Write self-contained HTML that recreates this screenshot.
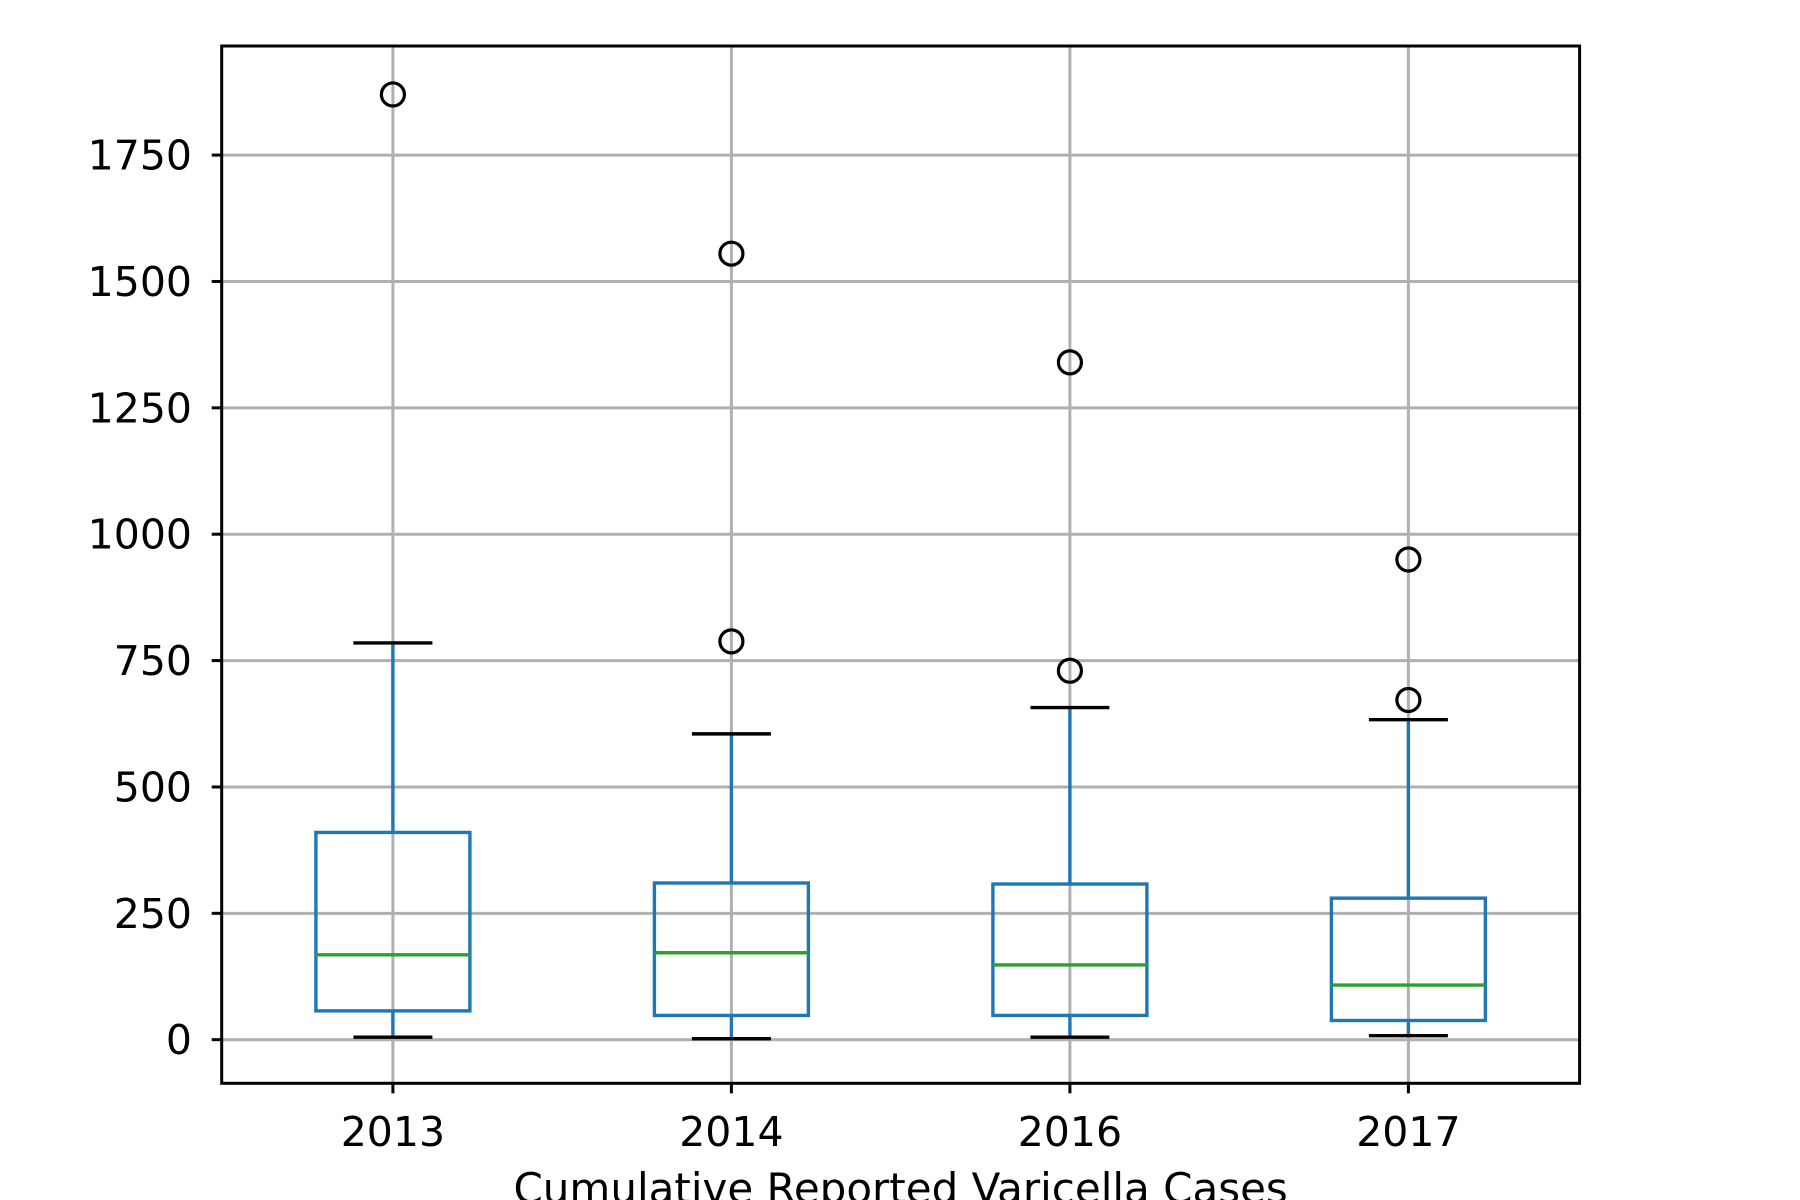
<!DOCTYPE html>
<html><head><meta charset="utf-8"><style>html,body{margin:0;padding:0;background:#fff}svg{display:block}text{font-family:"DejaVu Sans","Liberation Sans",sans-serif;fill:#000}</style></head>
<body>
<svg id="chart" width="1800" height="1200">
<rect width="1800" height="1200" fill="#fff"/>
<g id="grid"></g><g id="marks"></g><g id="axes"></g>
</svg>
<script>
const categories = ["2013","2014","2016","2017"];
const whiskerLow = [5, 2, 5, 8];
const q1 = [57, 48, 48, 38];
const median = [168, 172, 148, 108];
const q3 = [410, 310, 308, 280];
const whiskerHigh = [785, 605, 657, 633];
const outliers = [[1870],[788,1555],[730,1340],[672,950]];
const yTicks = [0,250,500,750,1000,1250,1500,1750];

const L=221.7,R=1579.6,T=46,B=1083.3;
const y0=1039.7, pxPer=(1039.7-155.1)/1750;
function y(v){return y0 - v*pxPer;}
function x(i){return 392.9 + i*(1408.4-392.9)/3;}
const NS="http://www.w3.org/2000/svg";
function mk(parent,tag,attrs){const e=document.createElementNS(NS,tag);for(const k in attrs)e.setAttribute(k,attrs[k]);document.getElementById(parent).appendChild(e);return e;}

yTicks.forEach(v=>{
  const g=mk("grid","line",{x1:L,x2:R,y1:y(v),y2:y(v),stroke:"#b0b0b0","stroke-width":3});
  
  
  const t=mk("axes","line",{x1:L-10,x2:L,y1:y(v),y2:y(v),stroke:"#000","stroke-width":3});
  
  
  const l=mk("axes","text",{x:192,y:y(v)+14.5,"text-anchor":"end","font-size":41});
  l.textContent=v;
  
  
});
categories.forEach((c,i)=>{
  const g=mk("grid","line",{x1:x(i),x2:x(i),y1:T,y2:B,stroke:"#b0b0b0","stroke-width":3});
  
  
  const t=mk("axes","line",{x1:x(i),x2:x(i),y1:B,y2:B+10,stroke:"#000","stroke-width":3});
  
  
  const l=mk("axes","text",{x:x(i),y:1146,"text-anchor":"middle","font-size":41});
  l.textContent=c;
  
  

  const bw=154, cw=79;
  const wl=mk("marks","line",{x1:x(i),x2:x(i),y1:y(q1[i]),y2:y(whiskerLow[i]),stroke:"#1f77b4","stroke-width":3.4});
  
  
  const wh=mk("marks","line",{x1:x(i),x2:x(i),y1:y(q3[i]),y2:y(whiskerHigh[i]),stroke:"#1f77b4","stroke-width":3.4});
  
  
  const cl=mk("marks","line",{x1:x(i)-cw/2,x2:x(i)+cw/2,y1:y(whiskerLow[i]),y2:y(whiskerLow[i]),stroke:"#000","stroke-width":3.4});
  
  
  const ch=mk("marks","line",{x1:x(i)-cw/2,x2:x(i)+cw/2,y1:y(whiskerHigh[i]),y2:y(whiskerHigh[i]),stroke:"#000","stroke-width":3.4});
  
  
  const bx=mk("marks","rect",{x:x(i)-bw/2,y:y(q3[i]),width:bw,height:y(q1[i])-y(q3[i]),fill:"none",stroke:"#1f77b4","stroke-width":3.4});
  
  
  const md=mk("marks","line",{x1:x(i)-bw/2,x2:x(i)+bw/2,y1:y(median[i]),y2:y(median[i]),stroke:"#2ca02c","stroke-width":3.4});
  
  
  outliers[i].forEach(v=>{
    const o=mk("marks","circle",{cx:x(i),cy:y(v),r:11.5,fill:"none",stroke:"#000","stroke-width":3.2});
    
    
  });
});
const fr=mk("axes","rect",{x:L,y:T,width:R-L,height:B-T,fill:"none",stroke:"#000","stroke-width":3});


const xl=mk("axes","text",{x:(L+R)/2,y:1203,"text-anchor":"middle","font-size":42});
xl.textContent="Cumulative Reported Varicella Cases";


</script>
</body></html>
